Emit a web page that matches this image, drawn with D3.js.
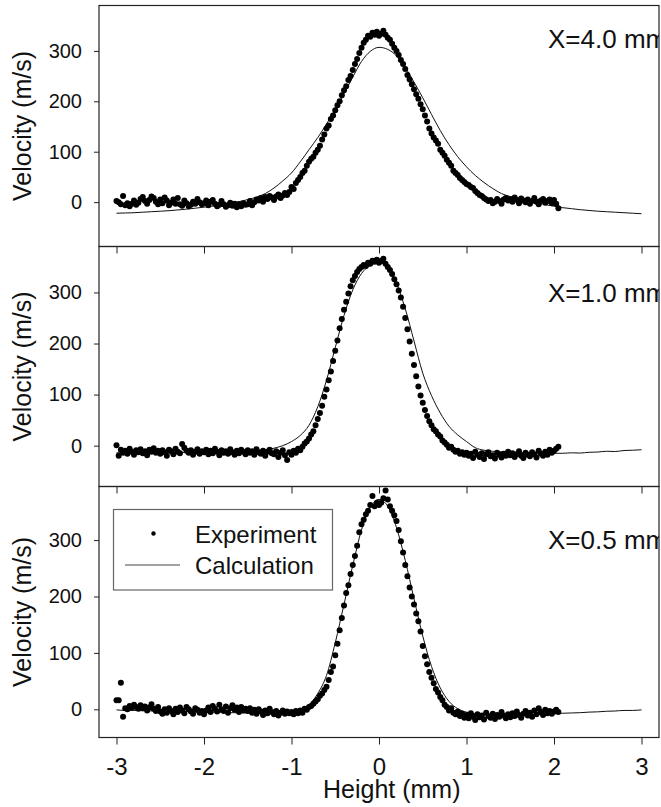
<!DOCTYPE html>
<html>
<head>
<meta charset="utf-8">
<script src="https://cdn.jsdelivr.net/npm/d3@7"></script>
<style>
body { margin: 0; background: #fff; }
text { font-family: "Liberation Sans", Arial, sans-serif; fill: #111; }
</style>
</head>
<body>
<div id="grafico"></div>
<script>
const WIDTH = 661;
const HEIGHT = 807;

// positions of the samples along the height axis (mm)
const expHeights = d3.range(203).map(i => -3 + i * 0.025);
const calcHeights = d3.range(61).map(i => -3 + i * 0.1);

// X = 4.0 mm
const exp40 = [
  2, 0, -4, 12, -6, -2, -8, -3, 3, -5, -1, 6, 10, 2, -3, 4, 11, 8, 1, -4,
  5, -2, 9, 3, -6, -1, 5, -3, 8, -4, -7, 3, -2, -8, -5, 1, -3, 6, 0, -4,
  -2, 3, -6, 1, 4, -3, -8, -5, 2, -4, -9, -6, -1, -7, -3, -10, -4, -8, -2, -5,
  -4, 2, -6, 0, 5, 3, 8, 1, 10, 6, 12, 9, 4, 11, 15, 8, 13, 18, 14, 20,
  30, 26, 38, 44, 50, 58, 62, 72, 80, 86, 90, 98, 104, 112, 124, 134, 146, 152, 165, 172,
  182, 192, 200, 212, 222, 230, 242, 250, 262, 274, 284, 296, 306, 316, 322, 330, 328, 336, 332, 338,
  330, 334, 340, 332, 326, 322, 314, 306, 300, 292, 282, 274, 264, 252, 243, 234, 224, 214, 205, 194,
  184, 172, 160, 146, 136, 128, 122, 116, 104, 98, 92, 84, 78, 72, 62, 58, 54, 48, 44, 40,
  36, 34, 30, 28, 22, 18, 14, 12, 8, 5, 2, 4, -2, 1, 6, 2, -3, 5, 8, 3,
  6, 1, 9, 4, -2, 7, 3, 0, 5, -3, 2, 8, 1, -4, 3, 6, -1, 2, 5, -2,
  4, -3, -12
];
const calc40 = [
  -22, -21.5, -21, -20, -19, -18, -17, -15.5, -14, -12,
  -10, -8, -5, -2, 1, 5, 10, 17, 28, 42,
  58, 80, 104, 128, 155, 184, 215, 248, 279, 299,
  307, 303, 290, 267, 238, 207, 174, 142, 114, 90,
  70, 53, 39, 27, 17, 11, 6, 2, -1, -5,
  -8, -11, -13, -15, -16.5, -18, -19, -20, -21, -22,
  -23
];

// X = 1.0 mm
const exp10 = [
  1, -20, -8, -14, -10, -16, -6, -12, -18, -9, -13, -7, -15, -11, -19, -8, -12, -5, -14, -10,
  -16, -9, -13, -20, -8, -11, -17, -6, -12, -15, 3, -4, -10, -14, -9, -18, -12, -7, -16, -11,
  -13, -8, -17, -10, -15, -6, -12, -19, -9, -14, -11, -16, -7, -13, -18, -10, -15, -8, -12, -17,
  -9, -14, -11, -18, -7, -13, -16, -10, -20, -12, -8, -15, -17, -11, -22, -14, -9, -19, -28, -13,
  -18, -10, -14, -6, -9, -2, 4, 8, 14, 22, 28, 40, 52, 64, 78, 96, 110, 128, 145, 166,
  186, 206, 230, 248, 266, 282, 298, 312, 324, 332, 340, 346, 350, 354, 352, 358, 356, 362, 360, 364,
  358, 362, 366, 356, 350, 344, 336, 326, 316, 304, 290, 272, 250, 228, 204, 180, 158, 136, 116, 98,
  84, 70, 58, 48, 40, 32, 28, 22, 18, 10, 6, 2, -4, -2, -8, -12, -10, -16, -13, -18,
  -14, -20, -16, -24, -12, -18, -22, -15, -26, -17, -13, -21, -19, -25, -14, -18, -23, -16, -20, -12,
  -19, -15, -22, -17, -11, -20, -24, -14, -18, -21, -13, -17, -23, -10, -16, -20, -12, -18, -8, -14,
  -10, -6, -2
];
const calc10 = [
  -14, -14, -14, -13.5, -14, -13.5, -13, -13.5, -13, -13,
  -12.5, -12.5, -12, -12, -11.5, -11, -10, -8, -5, 0,
  8, 20, 40, 76, 128, 192, 255, 305, 337, 353,
  358, 350, 318, 268, 205, 142, 98, 64, 38, 21,
  8, -4, -9, -11, -12, -13, -13.5, -14, -14.5, -15,
  -15, -15, -14, -14.5, -13, -12.5, -11, -11.5, -9.5, -9,
  -8
];

// X = 0.5 mm
const exp05 = [
  16, 16, 47, -13, 2, 0, 6, 3, 8, 4, 1, 7, 2, 5, -2, 3, 9, 1, -3, 4,
  -4, -8, 0, -6, 2, -3, -9, 1, -5, 3, -2, -7, 4, 0, -4, -8, 2, -1, -6, -3,
  -9, -2, 3, -5, 6, 1, -4, 8, 0, -3, 5, -6, 2, 7, -1, 3, -5, 4, -2, 1,
  -3, 2, -6, -1, -8, 0, -4, -10, -2, -7, 1, -5, -9, -3, -11, -6, -2, -8, -4, -7,
  -5, -9, -3, -7, -2, -6, 1, -1, 4, 6, 10, 14, 18, 24, 28, 34, 40, 52, 66, 76,
  96, 116, 140, 162, 184, 206, 220, 240, 256, 272, 290, 314, 328, 336, 346, 352, 362, 378, 360, 366,
  362, 366, 374, 388, 372, 360, 352, 344, 334, 318, 298, 278, 256, 236, 216, 200, 186, 170, 156, 138,
  112, 94, 80, 66, 56, 46, 36, 30, 22, 16, 8, 4, -2, 2, -6, -9, -4, -12, -8, -15,
  -10, -16, -7, -13, -19, -9, -14, -11, -18, -6, -12, -15, -8, -17, -10, -13, -5, -11, -16, -9,
  -14, -7, -12, -4, -10, -15, -8, -3, -11, -6, -13, -2, -9, 2, -5, -10, -1, -7, -3, -8,
  -4, -1, -5
];
const calc05 = [
  -1, -2, -2, -2.5, -3, -3, -3.5, -4, -4, -4.5,
  -5, -5, -5.5, -6, -6, -6.5, -7, -7, -7, -6.5,
  -5, -1, 8, 28, 60, 118, 186, 255, 318, 358,
  372, 360, 322, 264, 196, 130, 76, 38, 14, 1,
  -5, -8, -9, -9.5, -10, -10, -10, -9.5, -9, -8.5,
  -8, -7, -6.5, -6, -5, -4.5, -3.5, -3, -2, -2,
  -1
];

const panelNames = ["X=4.0 mm", "X=1.0 mm", "X=0.5 mm"];
const xTicks = [-3, -2, -1, 0, 1, 2, 3];
const yTicks = [0, 100, 200, 300];
const legendNames = ["Experiment", "Calculation"];

let svg = d3.select("#grafico")
    .append("svg")
    .attr("width", WIDTH)
    .attr("height", HEIGHT);

let x = d3.scaleLinear().domain([-3.2, 3.2]).range([99, 659]);

// layout of the three stacked panels
let panels = [
    {name: panelNames[0], exp: exp40, calc: calc40, domain: [-88, 390], top: 5.5, bottom: 246.5, labelY: 48},
    {name: panelNames[1], exp: exp10, calc: calc10, domain: [-80, 390], top: 246.5, bottom: 486.5, labelY: 302},
    {name: panelNames[2], exp: exp05, calc: calc05, domain: [-50, 395], top: 486.5, bottom: 737.5, labelY: 549}
];

panels.forEach((p, k) => {
    let y = d3.scaleLinear().domain(p.domain).range([p.bottom, p.top]);
    let g = svg.append("g");

    g.append("clipPath")
        .attr("id", "clip" + k)
        .append("rect")
        .attr("x", x.range()[0])
        .attr("y", p.top)
        .attr("width", x.range()[1] - x.range()[0])
        .attr("height", p.bottom - p.top);

    let plot = g.append("g").attr("clip-path", "url(#clip" + k + ")");

    let line = d3.line()
        .x((d, i) => x(calcHeights[i]))
        .y(d => y(d))
        .curve(d3.curveMonotoneX);

    plot.append("path")
        .datum(p.calc)
        .attr("d", line)
        .style("fill", "none")
        .style("stroke", "#111")
        .style("stroke-width", 1);

    plot.selectAll(".dot")
        .data(p.exp)
        .enter()
        .append("circle")
        .attr("class", "dot")
        .attr("cx", (d, i) => x(expHeights[i]))
        .attr("cy", d => y(d))
        .attr("r", 3)
        .style("fill", "#000");

    plot.append("text")
        .attr("x", 548)
        .attr("y", p.labelY)
        .style("font-size", "26px")
        .text(p.name);

    // frame
    g.append("rect")
        .attr("x", x.range()[0])
        .attr("y", p.top)
        .attr("width", x.range()[1] - x.range()[0])
        .attr("height", p.bottom - p.top)
        .style("fill", "none")
        .style("stroke", "#222")
        .style("stroke-width", 1.2);

    // y axis
    let yAxis = g.append("g")
        .attr("transform", "translate(" + x.range()[0] + ",0)")
        .call(d3.axisLeft(y).tickValues(yTicks).tickSize(5).tickPadding(12));
    yAxis.select(".domain").remove();
    yAxis.selectAll("line").style("stroke", "#222");
    yAxis.selectAll("text")
        .style("font-size", "20px")
        .style("font-family", "'Liberation Sans', Arial, sans-serif")
        .style("fill", "#111");

    // ticks along the top edge, pointing into the panel
    if (k > 0) {
        let tAxis = g.append("g")
            .attr("transform", "translate(0," + p.top + ")")
            .call(d3.axisBottom(x).tickValues(xTicks).tickSize(7).tickFormat(""));
        tAxis.select(".domain").remove();
        tAxis.selectAll("line").style("stroke", "#222");
    }

    g.append("text")
        .attr("transform", "translate(31," + ((p.top + p.bottom) / 2) + ") rotate(-90)")
        .attr("text-anchor", "middle")
        .style("font-size", "25px")
        .text("Velocity (m/s)");

    if (k == panels.length - 1) {
        let xAxis = g.append("g")
            .attr("transform", "translate(0," + p.bottom + ")")
            .call(d3.axisBottom(x).tickValues(xTicks).tickSize(7).tickPadding(13)
                .tickFormat(d => String(d)));
        xAxis.select(".domain").remove();
        xAxis.selectAll("line").style("stroke", "#222");
        xAxis.selectAll("text")
            .style("font-size", "24px")
            .style("font-family", "'Liberation Sans', Arial, sans-serif")
            .style("fill", "#111");

        svg.append("text")
            .attr("x", 323)
            .attr("y", 798)
            .style("font-size", "25px")
            .text("Height (mm)");

        // legend
        let legend = svg.append("g");
        legend.append("rect")
            .attr("x", 113.5)
            .attr("y", 509.5)
            .attr("width", 219)
            .attr("height", 80.5)
            .style("fill", "#fff")
            .style("stroke", "#666")
            .style("stroke-width", 1.2);
        legend.append("circle")
            .attr("cx", 153.5)
            .attr("cy", 533.5)
            .attr("r", 2.2)
            .style("fill", "#000");
        legend.append("line")
            .attr("x1", 125)
            .attr("x2", 180)
            .attr("y1", 565)
            .attr("y2", 565)
            .style("stroke", "#444")
            .style("stroke-width", 1);
        legend.append("text")
            .attr("x", 195)
            .attr("y", 543)
            .style("font-size", "24px")
            .text(legendNames[0]);
        legend.append("text")
            .attr("x", 195)
            .attr("y", 574)
            .style("font-size", "24px")
            .text(legendNames[1]);
    }
});
</script>
</body>
</html>
